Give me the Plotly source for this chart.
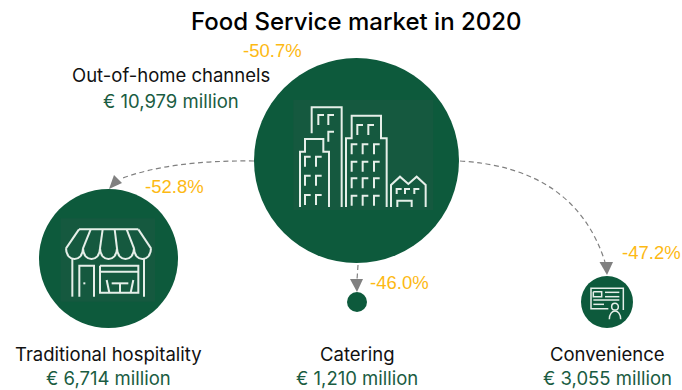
import plotly.graph_objects as go

# Market figures
channels = ["Out-of-home channels", "Traditional hospitality", "Catering", "Convenience"]
values_meur = [10979, 6714, 1210, 3055]
changes_pct = [-50.7, -52.8, -46.0, -47.2]
title_text = "Food Service market in 2020"

# Layout in page pixels
centres_x = [356.5, 108.5, 357, 607]
centres_y = [160.5, 258.5, 302, 302]
diameters = [205, 139, 20, 52]
name_pos = [(171, 75), (108, 354), (357, 354), (607, 354)]
value_pos = [(171, 101), (108, 378), (357, 378), (607, 378)]
change_pos = [(272, 50), (174.5, 186), (399, 282), (651, 252)]

GREEN = "#0d5a3c"
PANEL = "#15593f"
TEXT_GREEN = "#1a5c42"
AMBER = "#fdb913"
GREY = "#808080"
ICON = "#e6efe9"
FONT = "Inter"

fig = go.Figure()
fig.add_trace(go.Scatter(
    x=centres_x, y=centres_y, mode="markers", hoverinfo="skip",
    marker=dict(size=diameters, sizemode="diameter", color=GREEN, opacity=1, line=dict(width=0)),
))

shapes = []


def stroke(path, width=2, color=ICON):
    shapes.append(dict(type="path", path=path, layer="above", line=dict(color=color, width=width)))


def icon_path(points, ox, oy):
    """Polyline given in 1/3 pixel units relative to an icon origin."""
    return "M" + " L".join(f"{ox + x / 3:.2f},{oy + y / 3:.2f}" for x, y in points)


def panel(x0, y0, x1, y1):
    shapes.append(dict(type="rect", x0=x0, y0=y0, x1=x1, y1=y1, layer="above",
                       fillcolor=PANEL, line=dict(width=0)))


def corner(x, y, ox, oy, w=17, h=30):
    stroke(icon_path([(x, y + h), (x, y), (x + w, y)], ox, oy))


# City icon
OX, OY = 230, 30
panel(OX + 190 / 3, OY + 210 / 3, OX + 610 / 3, OY + 540 / 3)
for poly in (
    [(245, 310), (245, 232), (335, 232), (335, 531)],
    [(210, 531), (210, 365), (225, 365), (225, 327), (280, 327), (280, 365), (297, 365), (297, 531)],
    [(348, 531), (348, 325), (365, 325), (365, 257), (453, 257), (453, 325), (470, 325), (470, 531)],
    [(483, 531), (483, 465), (510, 440), (535, 462), (560, 440), (587, 465), (587, 531)],
    [(502, 531), (502, 512), (545, 512), (545, 531)],
):
    stroke(icon_path(poly, OX, OY))
for x, y in [(265, 255), (295, 255), (295, 305), (225, 380), (258, 380), (225, 437), (258, 437),
             (225, 495), (258, 495), (382, 285), (415, 285)]:
    corner(x, y, OX, OY)
for y in (343, 395, 445, 497):
    for x in (365, 398, 432):
        corner(x, y, OX, OY)
for x in (500, 525, 553):
    corner(x, 477, OX, OY, w=15, h=15)

# Shop icon
OX, OY = 20, 150
panel(OX + 122 / 3, OY + 205 / 3, OX + 405 / 3, OY + 455 / 3)
bottoms = [138, 189, 240, 291, 342, 393]
tops = [177, 212, 248, 284, 320, 355]
stroke(icon_path([(tops[0], 238), (tops[-1], 238)], OX, OY))
for t, b in zip(tops, bottoms):
    stroke(icon_path([(t, 238), (b, 295)], OX, OY))
for a, b in zip(bottoms[:-1], bottoms[1:]):
    stroke(f"M{OX + a / 3:.2f},{OY + 295 / 3:.2f} C{OX + a / 3:.2f},{OY + 338 / 3:.2f} "
           f"{OX + b / 3:.2f},{OY + 338 / 3:.2f} {OX + b / 3:.2f},{OY + 295 / 3:.2f}")
for poly in (
    [(157, 325), (157, 440)],
    [(372, 325), (372, 440)],
    [(178, 440), (178, 347), (222, 347), (222, 440)],
    [(240, 347), (355, 347), (355, 428), (240, 428), (240, 347)],
    [(240, 365), (355, 365)],
    [(260, 390), (268, 428)],
    [(340, 390), (332, 428)],
    [(275, 400), (325, 400)],
    [(300, 400), (300, 428)],
    [(193, 397), (193, 403)],
):
    stroke(icon_path(poly, OX, OY))

# ID card icon
OX, OY = 330, 160
for poly in (
    [(835, 446), (783, 446), (783, 385), (880, 385), (880, 450)],
    [(790, 395), (815, 395), (815, 410), (790, 410), (790, 395)],
    [(825, 397), (868, 397)],
    [(825, 410), (868, 410)],
    [(790, 420), (868, 420)],
    [(790, 433), (822, 433)],
):
    stroke(icon_path(poly, OX, OY), width=1.5)
shapes.append(dict(type="circle", x0=OX + 845 / 3, x1=OX + 865 / 3, y0=OY + 430 / 3, y1=OY + 450 / 3,
                   layer="above", line=dict(color=ICON, width=1.5)))
stroke(f"M{OX + 838 / 3:.2f},{OY + 478 / 3:.2f} C{OX + 838 / 3:.2f},{OY + 445 / 3:.2f} "
       f"{OX + 872 / 3:.2f},{OY + 445 / 3:.2f} {OX + 872 / 3:.2f},{OY + 478 / 3:.2f}", width=1.5)

# Dashed connectors with their arrowheads
for path in ("M254,161 Q170,160 120,179", "M460,161 Q575,168 605,262", "M358,265 L357,280"):
    shapes.append(dict(type="path", path=path, layer="below",
                       line=dict(color=GREY, width=1.2, dash="5px,3.5px")))
for head in ("M109,189 L114,175 L122,183 Z", "M607,275 L599.5,262 L613,262 Z", "M357,292 L350,279 L363,279 Z"):
    shapes.append(dict(type="path", path=head, layer="below", fillcolor=GREY, line=dict(width=0)))

annotations = [dict(x=356, y=21, text=title_text,
                    font=dict(size=24, color="#000000", family=FONT, weight=500))]
for name, val, chg, np_, vp, cp in zip(channels, values_meur, changes_pct, name_pos, value_pos, change_pos):
    annotations.append(dict(x=np_[0], y=np_[1], text=name, font=dict(size=18.5, color="#111111", family=FONT)))
    annotations.append(dict(x=vp[0], y=vp[1], text=f"€ {val:,} million", font=dict(size=18.5, color=TEXT_GREEN, family=FONT)))
    annotations.append(dict(x=cp[0], y=cp[1], text=f"{chg:.1f}%", font=dict(size=18.5, color=AMBER, family="Liberation Sans")))
for a in annotations:
    a.update(xref="x", yref="y", showarrow=False, xanchor="center", yanchor="middle")

fig.update_layout(
    width=682, height=390, margin=dict(l=0, r=0, t=0, b=0),
    paper_bgcolor="white", plot_bgcolor="white", showlegend=False,
    xaxis=dict(range=[0, 682], visible=False, fixedrange=True),
    yaxis=dict(range=[390, 0], visible=False, fixedrange=True),
    shapes=shapes, annotations=annotations,
)
fig.write_html("out.html", config=dict(displayModeBar=False))
